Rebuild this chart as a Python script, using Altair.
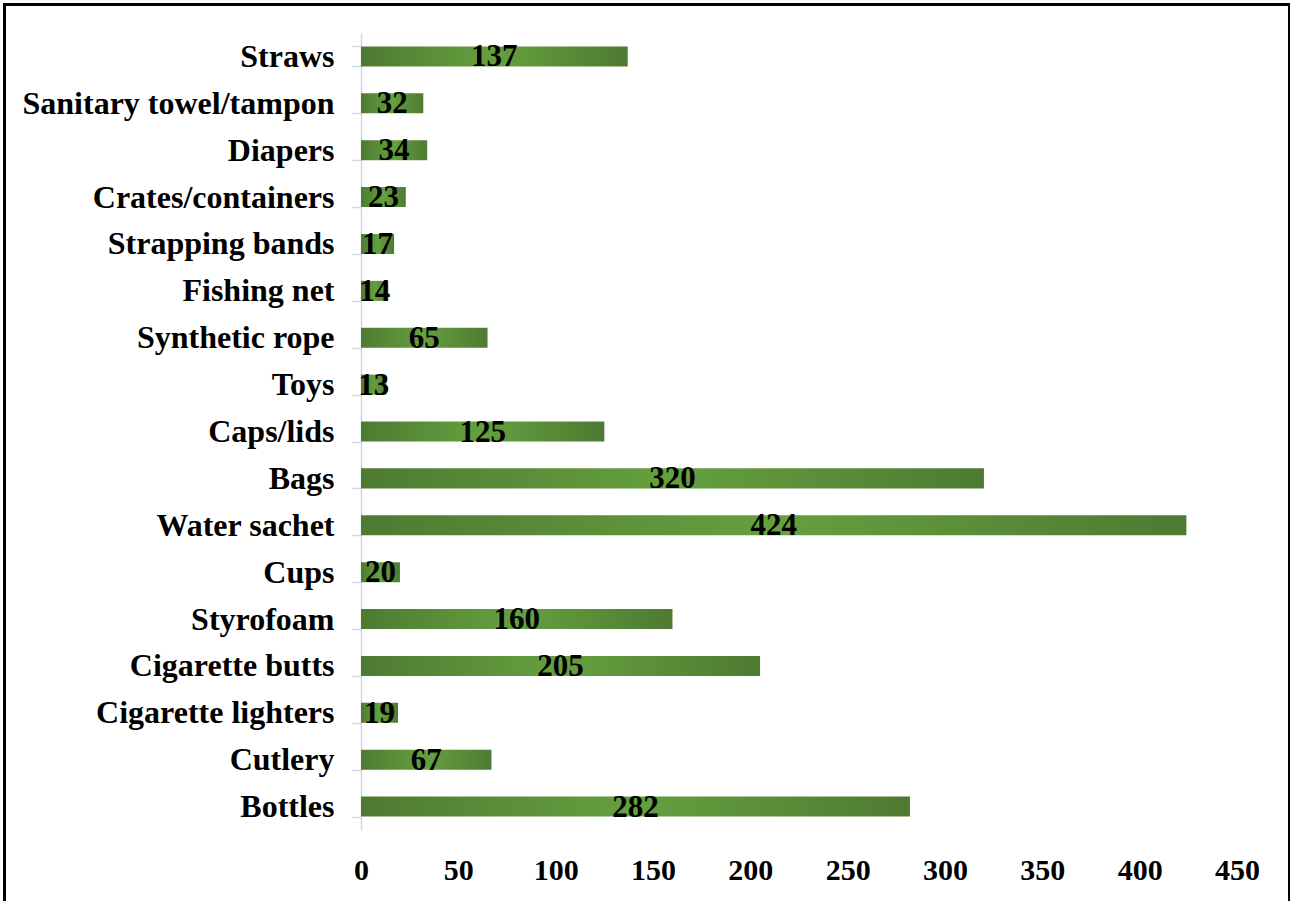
import altair as alt
import pandas as pd

# Plastic litter items counted, listed top to bottom
items = [
    "Straws", "Sanitary towel/tampon", "Diapers", "Crates/containers",
    "Strapping bands", "Fishing net", "Synthetic rope", "Toys", "Caps/lids",
    "Bags", "Water sachet", "Cups", "Styrofoam", "Cigarette butts",
    "Cigarette lighters", "Cutlery", "Bottles",
]
counts = [137, 32, 34, 23, 17, 14, 65, 13, 125, 320, 424, 20, 160, 205, 19, 67, 282]
x_ticks = [0, 50, 100, 150, 200, 250, 300, 350, 400, 450]

df = pd.DataFrame({"item": items, "count": counts})

FONT = "Liberation Serif"
DARK = "#4e7a32"
LIGHT = "#65a03f"

y_enc = alt.Y(
    "item:N",
    sort=items,
    scale=alt.Scale(paddingInner=0.573, paddingOuter=0.2865),
    axis=alt.Axis(
        title=None,
        labelFont=FONT,
        labelFontSize=32,
        labelFontWeight="bold",
        labelColor="black",
        labelPadding=18,
        labelLimit=0,
        domainColor="#d0d7e2",
        domainWidth=1.5,
        tickColor="#d0d7e2",
        tickWidth=1.5,
        tickSize=9,
        tickBand="extent",
    ),
)

x_enc = alt.X(
    "count:Q",
    scale=alt.Scale(domain=[0, 450], nice=False),
    axis=alt.Axis(
        title=None,
        values=x_ticks,
        grid=False,
        domain=False,
        ticks=False,
        tickSize=0,
        labelFont=FONT,
        labelFontSize=30,
        labelFontWeight="bold",
        labelColor="black",
        labelPadding=25,
        labelBaseline="top",
        labelFlush=False,
        labelOverlap=False,
    ),
)

bars = alt.Chart(df).mark_bar(
    color=alt.LinearGradient(
        gradient="linear",
        x1=0, x2=1, y1=0, y2=0,
        stops=[
            alt.GradientStop(color=DARK, offset=0),
            alt.GradientStop(color=LIGHT, offset=0.5),
            alt.GradientStop(color=DARK, offset=1),
        ],
    )
).encode(x=x_enc, y=y_enc)

labels = alt.Chart(df).transform_calculate(
    mid="datum.count / 2"
).mark_text(
    font=FONT,
    fontSize=31,
    fontWeight="bold",
    color="black",
    align="center",
    baseline="middle",
    dy=1,
).encode(
    x=alt.X("mid:Q", scale=alt.Scale(domain=[0, 450], nice=False)),
    y=alt.Y("item:N", sort=items),
    text=alt.Text("count:Q"),
)

# Outer frame around the whole figure
frame = alt.Chart(pd.DataFrame({"k": [0]})).mark_rect(
    filled=False, stroke="black", strokeWidth=3, clip=False
).encode(
    x=alt.value(-356.5),
    x2=alt.value(928.5),
    y=alt.value(-28.5),
    y2=alt.value(880),
)

chart = alt.layer(bars, labels, frame).properties(
    width=876,
    height=797,
    autosize=alt.AutoSizeParams(type="none"),
    padding={"left": 361, "top": 33, "right": 53, "bottom": 71},
    background="white",
).configure_view(stroke=None)

chart.save("out.html", embed_options={"renderer": "svg", "actions": False})
